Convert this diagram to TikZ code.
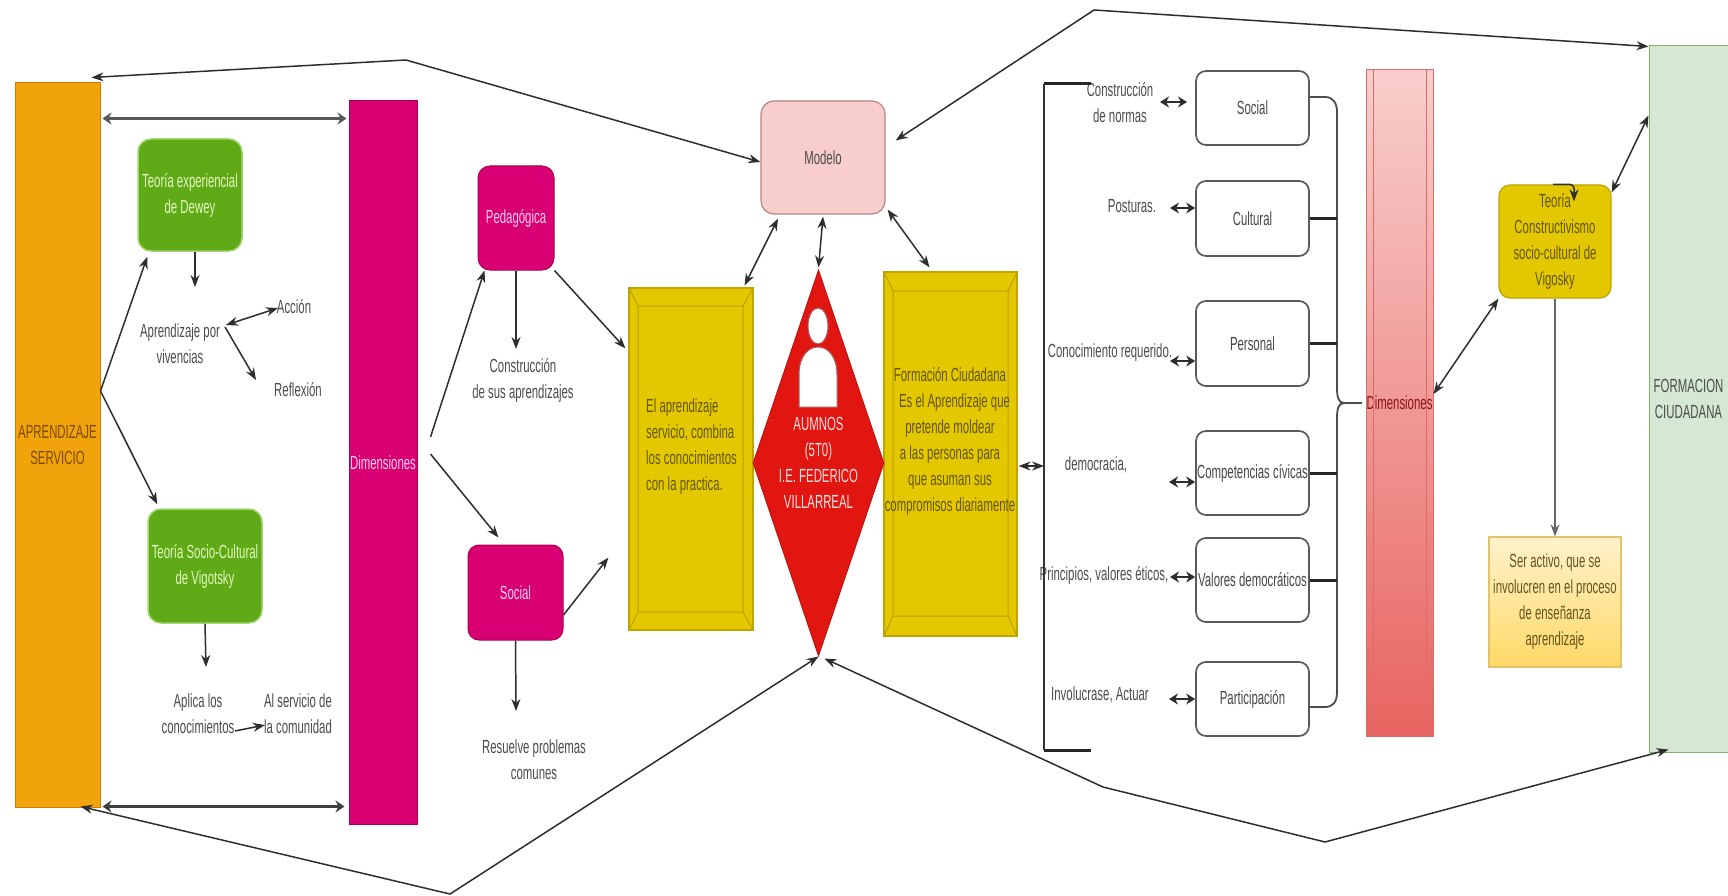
\documentclass[tikz,border=0pt]{standalone}
\usepackage{fontspec}
\setmainfont[FakeStretch=0.6]{Liberation Sans}
\usetikzlibrary{shapes.geometric,arrows.meta,calc}
\definecolor{cgrey}{HTML}{4C4C4C}
\definecolor{cline}{HTML}{2E2E2E}
\tikzset{
  every node/.style={font=\fontsize{19}{26}\selectfont,inner sep=0pt,align=center},
  orangebox/.style={rectangle,fill={rgb,255:red,240;green,163;blue,10},draw={rgb,255:red,205;green,125;blue,5},line width=1pt,text={rgb,255:red,125;green,75;blue,0}},
  magbox/.style={fill={rgb,255:red,216;green,0;blue,115},draw={rgb,255:red,170;green,0;blue,80},line width=1pt,text={rgb,255:red,255;green,205;blue,235}},
  greenbox/.style={rounded corners=13pt,fill={rgb,255:red,96;green,169;blue,23},draw={rgb,255:red,160;green,215;blue,110},line width=1.5pt,text={rgb,255:red,225;green,250;blue,190}},
  yelbox/.style={fill={rgb,255:red,227;green,200;blue,0},draw={rgb,255:red,190;green,165;blue,0},line width=1.2pt,text={rgb,255:red,100;green,85;blue,0}},
  bevel/.style={draw={rgb,255:red,185;green,160;blue,0},line width=1pt},
  pinkbox/.style={rounded corners=13pt,fill={rgb,255:red,248;green,206;blue,204},draw={rgb,255:red,184;green,130;blue,128},line width=1.2pt,text=cgrey},
  whitebox/.style={rounded corners=10pt,fill=white,draw={rgb,255:red,90;green,90;blue,90},line width=1.7pt,text={rgb,255:red,70;green,70;blue,70}},
  redgrad/.style={top color={rgb,255:red,248;green,206;blue,204},bottom color={rgb,255:red,232;green,100;blue,96},draw={rgb,255:red,214;green,110;blue,108},line width=1pt,text={rgb,255:red,140;green,20;blue,20}},
  lbl/.style={text=cgrey},
  tip/.style={draw=cline,line width=1.5pt,-{Stealth[length=12pt,width=9pt]}},
  both/.style={draw=cline,line width=1.5pt,{Stealth[length=12pt,width=9pt]}-{Stealth[length=12pt,width=9pt]}},
  bothb/.style={draw=cline,line width=2.2pt,{Stealth[length=9pt,width=11pt]}-{Stealth[length=9pt,width=11pt]}},
  bothw/.style={line width=2.6pt,{Stealth[length=9pt,width=12pt]}-{Stealth[length=9pt,width=12pt]}},
  thickl/.style={draw=black!85,line width=3pt},
  bracel/.style={draw=black!70,line width=1.8pt}
}
\begin{document}
\begin{tikzpicture}[x=1pt,y=-1pt]
\useasboundingbox (0,0) rectangle (1728,896);
\fill[white] (0,0) rectangle (1728,896);
% left column
\node[orangebox,minimum width=85pt,minimum height=724pt] (orange) at (57.5,445) {APRENDIZAJE\\SERVICIO};
\node[magbox,minimum width=68pt,minimum height=723pt] (magdim) at (383,462.5) {Dimensiones};
\node[greenbox,minimum width=104pt,minimum height=112pt] (dewey) at (190,195) {Teoría experiencial\\de Dewey};
\node[greenbox,minimum width=114pt,minimum height=114pt] (vigot) at (205,566) {Teoría Socio-Cultural\\de Vigotsky};
\node[lbl] (aprend) at (180,344) {Aprendizaje por\\vivencias};
\node[lbl] (accion) at (294,307) {Acción};
\node[lbl] (reflex) at (298,390) {Reflexión};
\node[lbl] (aplica) at (198,714) {Aplica los\\conocimientos};
\node[lbl] (alserv) at (298,714) {Al servicio de\\la comunidad};
% pedagogic / social
\node[magbox,rounded corners=12pt,minimum width=76pt,minimum height=104pt] (ped) at (516,218) {Pedagógica};
\node[magbox,rounded corners=11pt,minimum width=95pt,minimum height=95pt] (socm) at (515.5,592.5) {Social};
\node[lbl] (constr) at (523,380) {Construcción\\de sus aprendizajes};
\node[lbl] (resuel) at (534,760) {Resuelve problemas\\comunes};
% centre
\node[pinkbox,minimum width=124pt,minimum height=113pt] (modelo) at (823,157.5) {Modelo};
\node[yelbox,minimum width=124pt,minimum height=342pt] (yl) at (691,459) {};
\draw[bevel] (638,306) rectangle (743,612) (629,288) -- (638,306) (753,288) -- (743,306) (629,630) -- (638,612) (753,630) -- (743,612);
\node[anchor=west,align=left,text={rgb,255:red,100;green,85;blue,0}] (ylt) at (646,447) {El aprendizaje\\servicio, combina\\los conocimientos\\con la practica.};
\node[yelbox,minimum width=133pt,minimum height=364pt] (yr) at (950.5,454) {};
\draw[bevel] (893,291) rectangle (1008,616) (884,272) -- (893,291) (1017,272) -- (1008,291) (884,636) -- (893,616) (1017,636) -- (1008,616);
\node[text={rgb,255:red,100;green,85;blue,0}] (yrt) at (950,441) {Formación Ciudadana\\\hspace*{9pt}Es el Aprendizaje que\\pretende moldear\\a las personas para\\que asuman sus\\compromisos diariamente};
\node[diamond,aspect=0.34,minimum width=131pt,minimum height=386pt,fill={rgb,255:red,226;green,22;blue,16},draw={rgb,255:red,190;green,20;blue,15},line width=1pt,text={rgb,255:red,255;green,225;blue,225}] (alum) at (818.5,463) {AUMNOS\\(5T0)\\I.E. FEDERICO\\VILLARREAL};
\fill[white,draw={rgb,255:red,170;green,90;blue,90},line width=1pt] (818,326) ellipse (10 and 18);
\fill[white,draw={rgb,255:red,170;green,90;blue,90},line width=1pt] (799,407) -- (799,375) .. controls (799,355) and (809,347) .. (818,347) .. controls (827,347) and (837,355) .. (837,375) -- (837,407) -- cycle;
% right labels
\node[lbl] (lnorm) at (1120,103) {Construcción\\de normas};
\node[lbl] (lpost) at (1132,206) {Posturas.};
\node[lbl] (lcon) at (1110,353) {Conocimiento requerido.};
\node[lbl] (ldem) at (1096,465) {democracia,};
\node[lbl] (lpri) at (1104,575) {Principios, valores éticos,};
\node[lbl] (linv) at (1100,695) {Involucrase, Actuar};
% dimension boxes
\node[whitebox,minimum width=113pt,minimum height=74pt] (bsoc) at (1252.5,108) {Social};
\node[whitebox,minimum width=113pt,minimum height=75pt] (bcul) at (1252.5,218.5) {Cultural};
\node[whitebox,minimum width=113pt,minimum height=85pt] (bper) at (1252.5,343.5) {Personal};
\node[whitebox,minimum width=113pt,minimum height=84pt] (bcom) at (1252.5,473) {Competencias cívicas};
\node[whitebox,minimum width=113pt,minimum height=84pt] (bval) at (1252.5,580) {Valores democráticos};
\node[whitebox,minimum width=113pt,minimum height=74pt] (bpar) at (1252.5,699) {Participación};
\node[redgrad,minimum width=67pt,minimum height=666pt] (rdim) at (1399.5,403) {Dimensiones};
\draw[draw={rgb,255:red,214;green,110;blue,108},line width=1pt] (1373,70) -- (1373,736) (1426,70) -- (1426,736);
% far right
\node[yelbox,rounded corners=11pt,minimum width=112pt,minimum height=113pt] (teoria) at (1555,241.5) {Teoría\\Constructivismo\\socio-cultural de\\Vigosky};
\node[draw={rgb,255:red,225;green,195;blue,110},line width=1.2pt,top color={rgb,255:red,255;green,242;blue,204},bottom color={rgb,255:red,255;green,217;blue,102},minimum width=132pt,minimum height=130pt,text={rgb,255:red,100;green,85;blue,30}] (ser) at (1555,602) {Ser activo, que se\\involucren en el proceso\\de enseñanza\\aprendizaje};
\node[fill={rgb,255:red,213;green,232;blue,212},draw={rgb,255:red,130;green,179;blue,102},line width=1pt,minimum width=79pt,minimum height=706pt,text=cgrey] (form) at (1688.5,399) {FORMACION\\CIUDADANA};
% coordinates
\coordinate (wpTL) at (406,60);
\coordinate (wpBL) at (450,894);
\coordinate (wpTR) at (1094,10);
\coordinate (wpBR1) at (1103,787);
\coordinate (wpBR2) at (1325,842);
\coordinate (aprIn) at (195,287);
\coordinate (aprA) at (226,325);
\coordinate (aprB) at (225,327);
\coordinate (accIn) at (278,308);
\coordinate (refIn) at (256,380);
\coordinate (aplIn) at (206,667);
\coordinate (conOut) at (235,731);
\coordinate (alsIn) at (265,725);
\coordinate (conIn) at (516,349);
\coordinate (resIn) at (516,711);
\coordinate (norA) at (1160,102);
\coordinate (posA) at (1170,208);
\coordinate (perA) at (1170,361);
\coordinate (comA) at (1169,482);
\coordinate (valA) at (1170,577);
\coordinate (parA) at (1169,699);
\coordinate (norB) at (1187,102);
\coordinate (brT) at (1091,84);
\coordinate (brTc) at (1044,84);
\coordinate (brBc) at (1044,750);
\coordinate (brB) at (1091,750);
\coordinate (brM) at (1044,466);
% long connectors
\draw[both] ([yshift=-4.5pt]modelo.west) -- (wpTL) -- ([xshift=-9pt,yshift=5pt]orange.north east);
\draw[both] (alum.south) -- (wpBL) -- ([xshift=-20pt,yshift=1pt]orange.south east);
\draw[both] ([xshift=10pt,yshift=17pt]modelo.east) -- (wpTR) -- ([yshift=-1pt]form.north west);
\draw[both] ([xshift=6pt,yshift=-2pt]alum.south) -- (wpBR1) -- (wpBR2) -- ([xshift=20pt,yshift=3pt]form.south west);
% left connectors
\draw[bothw,draw=black!65] ([xshift=2pt,yshift=-36pt]orange.north east) -- ([xshift=-2pt,yshift=-18pt]magdim.north west);
\draw[bothw,line width=2.2pt,draw=black!75] ([xshift=2pt,yshift=1pt]orange.south east) -- ([xshift=-4pt,yshift=18pt]magdim.south west);
\draw[tip] ([yshift=54pt]orange.east) -- ([xshift=10pt,yshift=-5pt]dewey.south west);
\draw[tip] ([yshift=54pt]orange.east) -- ([xshift=10pt,yshift=4pt]vigot.north west);
\draw[tip] ([xshift=5pt]dewey.south) -- (aprIn);
\draw[both] (aprA) -- (accIn);
\draw[tip] (aprB) -- (refIn);
\draw[tip] (vigot.south) -- (aplIn);
\draw[tip] (conOut) -- (alsIn);
% dimension to ped/social
\draw[tip] ([xshift=13pt,yshift=25.5pt]magdim.east) -- ([xshift=7pt]ped.south west);
\draw[tip] ([xshift=13pt,yshift=8.5pt]magdim.east) -- ([xshift=31pt,yshift=7pt]socm.north west);
\draw[tip] (ped.south) -- (conIn);
\draw[tip] (socm.south) -- (resIn);
\draw[tip] (ped.south east) -- ([xshift=-3pt,yshift=-61pt]yl.north west);
\draw[tip] ([yshift=-22.5pt]socm.east) -- ([xshift=-20pt,yshift=73pt]yl.south west);
% centre connectors
\draw[both] ([xshift=-9pt,yshift=2pt]yl.north east) -- ([xshift=-45pt,yshift=-4pt]modelo.south);
\draw[both] ([yshift=-2pt]modelo.south) -- ([yshift=2pt]alum.north);
\draw[both] ([xshift=2pt,yshift=5pt]modelo.south east) -- ([xshift=-21pt,yshift=4pt]yr.north);
\draw[both] ([xshift=1pt,yshift=-12pt]yr.east) -- (brM);
% bracket
\draw[thickl] (brT) -- (brTc);
\draw[bracel,line width=2.4pt,draw=black!80] (brTc) -- (brBc);
\draw[thickl] (brBc) -- (brB);
% small double arrows
\draw[bothb] (norA) -- (norB);
\draw[bothb] (posA) -- ([yshift=10.5pt]bcul.west);
\draw[bothb] (perA) -- ([yshift=-17.5pt]bper.west);
\draw[bothb] (comA) -- ([yshift=-9pt]bcom.west);
\draw[bothb] (valA) -- ([yshift=3pt]bval.west);
\draw[bothb] (parA) -- (bpar.west);
% brace
\draw[bracel] ([yshift=11pt]bsoc.east) -- (1325,97) .. controls (1333,97) and (1337,103) .. (1337,112) -- (1337,388) .. controls (1337,396) and (1338,403) .. (1344,403) .. controls (1338,403) and (1337,410) .. (1337,418) -- (1337,692) .. controls (1337,702) and (1333,707) .. (1325,707) -- ([yshift=-8pt]bpar.east);
\draw[thickl] (bcul.east) -- (1337,218.5);
\draw[thickl] (bper.east) -- (1337,343.5);
\draw[thickl] (bcom.east) -- (1337,473);
\draw[thickl] (bval.east) -- (1337,580);
\draw[bracel,line width=2.6pt] (1344,403) -- ([xshift=-4pt]rdim.west);
% right connectors
\draw[both] ([yshift=9pt]rdim.east) -- (teoria.south west);
\draw[both] ([yshift=-8pt]teoria.north east) -- ([yshift=-70pt]form.north west);
\draw[tip,rounded corners=4pt] ([xshift=-2pt]teoria.north) -- ([xshift=19pt]teoria.north) -- ([xshift=19pt,yshift=-17pt]teoria.north);
\draw[tip,draw=black!60] (teoria.south) -- (ser.north);
\end{tikzpicture}
\end{document}
